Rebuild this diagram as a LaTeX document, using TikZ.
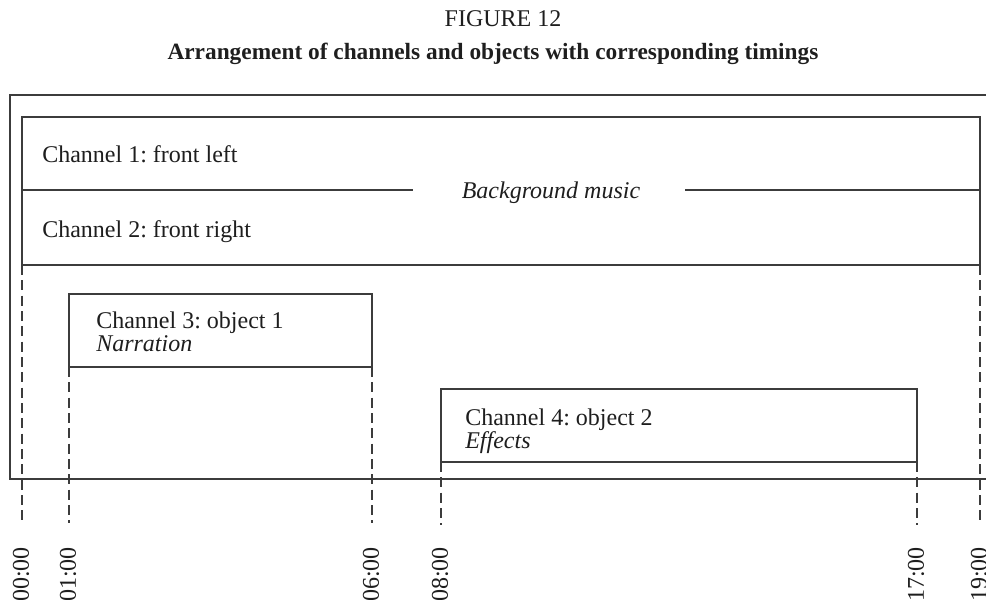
\documentclass[tikz,border=0pt]{standalone}
\usepackage{fontspec}
\setmainfont{Liberation Serif}
\frenchspacing
\definecolor{ink}{HTML}{1E1E1E}
\definecolor{rule}{HTML}{3C3C3C}
\begin{document}
\begin{tikzpicture}[x=0.75pt,y=-0.75pt,
  txt/.style={inner sep=0pt,text=ink,font=\fontsize{18pt}{21pt}\selectfont},
  frame/.style={draw=rule,line width=0.95pt},
  timeline/.style={draw=rule,line width=1.1pt,dash pattern=on 7.5pt off 4pt},
  stamp/.style={txt,rotate=90,anchor=east}]
\useasboundingbox (0,0) rectangle (986,600);
\clip (0,0) rectangle (986,600);

% caption
\node[txt,anchor=base] (fig) at (503,26) {FIGURE 12};
\node[txt,anchor=base,font=\fontsize{17.5pt}{21pt}\selectfont\bfseries] (title) at (493,59)
  {Arrangement of channels and objects with corresponding timings};

% outer frame, open to the right
\draw[frame] (986,95) -- (10,95) -- (10,479) -- (986,479);

% time instants
\coordinate (t0)  at (22,523);
\coordinate (t1)  at (69,523);
\coordinate (t6)  at (372,523);
\coordinate (t8)  at (441,525);
\coordinate (t17) at (917,525);
\coordinate (t19) at (980,523);

% bed channels
\coordinate (bedNW) at (22,117);
\coordinate (bedSE) at (980,265);
\draw[frame] (bedNW) rectangle (bedSE);
\node[txt,anchor=base] (bgm) at (551,198) {\itshape Background music};
\coordinate (midL) at (22,190);
\coordinate (midR) at (980,190);
\draw[frame] (midL) -- (413,190);
\draw[frame] (685,190) -- (midR);
\node[txt,anchor=base west] (ch1) at (42,162) {Channel 1: front left};
\node[txt,anchor=base west] (ch2) at (42,237) {Channel 2: front right};

% object 1
\coordinate (o1NW) at (69,294);
\coordinate (o1SE) at (372,367);
\draw[frame] (o1NW) rectangle (o1SE);
\node[txt,anchor=base west] (ch3) at (96,328) {Channel 3: object 1};
\node[txt,anchor=base west] (nar) at (96,351) {\itshape Narration};

% object 2
\coordinate (o2NW) at (441,389);
\coordinate (o2SE) at (917,462);
\draw[frame] (o2NW) rectangle (o2SE);
\node[txt,anchor=base west] (ch4) at (465,425) {Channel 4: object 2};
\node[txt,anchor=base west] (eff) at (465,448) {\itshape Effects};

% timing guides
\draw[timeline] (22,265) -- (t0);
\draw[timeline] (69,367) -- (t1);
\draw[timeline] (372,367) -- (t6);
\draw[timeline] (441,462) -- (t8);
\draw[timeline] (917,462) -- (t17);
\draw[timeline] (980,265) -- (t19);

% time stamps
\node[stamp] (s0)  at (21,547) {00:00};
\node[stamp] (s1)  at (68,547) {01:00};
\node[stamp] (s6)  at (371,547) {06:00};
\node[stamp] (s8)  at (440,547) {08:00};
\node[stamp] (s17) at (916,547) {17:00};
\node[stamp] (s19) at (979,547) {19:00};
\end{tikzpicture}
\end{document}
